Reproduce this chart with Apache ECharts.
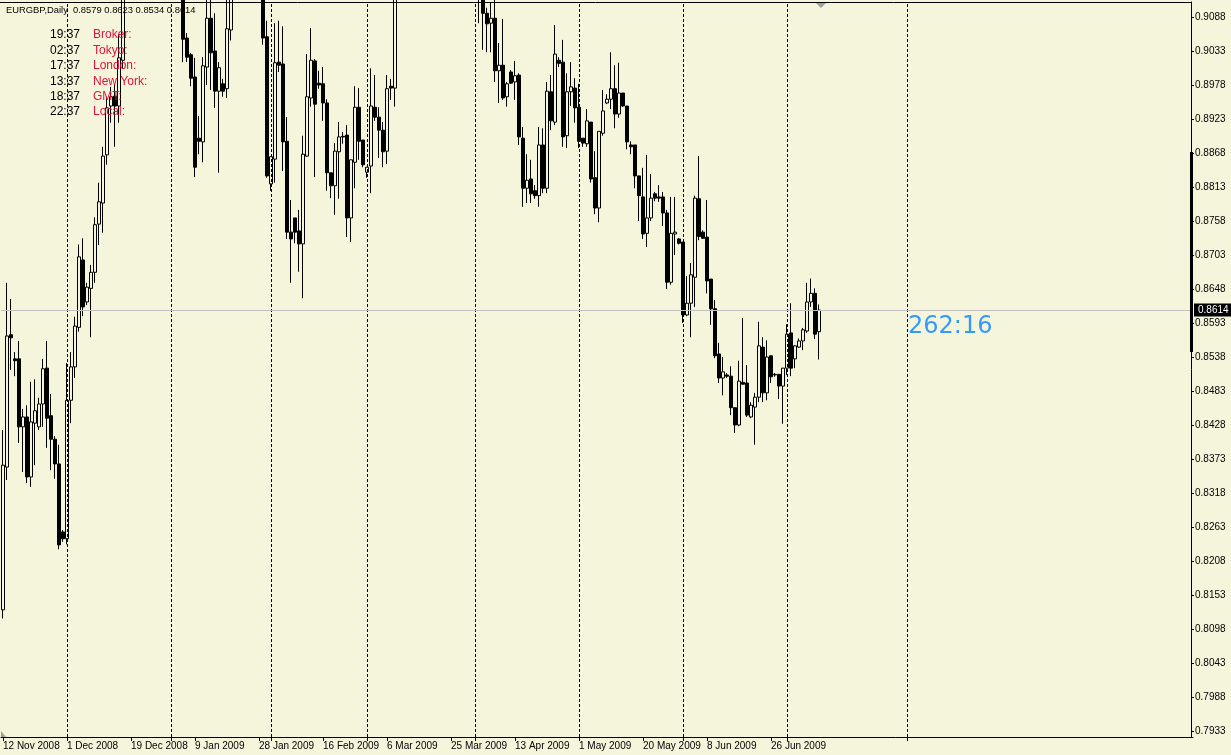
<!DOCTYPE html>
<html><head><meta charset="utf-8">
<script src="https://cdn.jsdelivr.net/npm/echarts@6/dist/echarts.min.js"></script>
<style>html,body{margin:0;padding:0;background:#F5F5DC;}#c{width:1231px;height:755px;}</style>
</head><body><div id="c"></div>
<script>
// ---------------- data ----------------
const symbolTitle = 'EURGBP,Daily';
const lastBarOHLC = [0.8579, 0.8623, 0.8534, 0.8614];   // open high low close of last bar
const currentPrice = 0.8614;
const countdownText = '262:16';
const clockTimes = ['19:37', '02:37', '17:37', '13:37', '18:37', '22:37'];
const clockNames = ['Broker:', 'Tokyo:', 'London:', 'New York:', 'GMT:', 'Local:'];

// daily bars (Sunday bars included), 12 Nov 2008 .. 10 Jul 2009
const opens = [
 0.8129,0.8360,0.8574,0.8535,0.8535,0.8425,0.8441,0.8344,0.8431,0.8425,
 0.8462,0.8520,0.8443,0.8405,0.8365,0.8255,0.8244,0.8468,0.8522,0.8586,
 0.8695,0.8627,0.8649,0.8675,0.8753,0.8787,0.8865,0.8944,0.8960,0.8944,
 0.9018,0.9230,0.9450,0.9320,0.9330,0.9480,0.9550,0.9600,0.9580,0.9590,
 0.9680,0.9750,0.9650,0.9520,0.9510,0.9300,0.9054,0.9027,0.8991,0.8892,
 0.8886,0.9007,0.9086,0.9033,0.8968,0.8980,0.8972,0.9067,0.9180,0.9320,
 0.9380,0.9420,0.9410,0.9330,0.9250,0.9160,0.9056,0.8818,0.8858,0.9015,
 0.9012,0.8887,0.8740,0.8763,0.8742,0.8721,0.8863,0.8957,0.9017,0.8981,
 0.8980,0.8949,0.8836,0.8815,0.8870,0.8895,0.8897,0.8763,0.8853,0.8942,
 0.8889,0.8837,0.8847,0.8942,0.8926,0.8905,0.8871,0.8976,0.8973,0.9180,
 0.9250,0.9200,0.9280,0.9350,0.9340,0.9300,0.9380,0.9470,0.9420,0.9450,
 0.9440,0.9380,0.9300,0.9350,0.9320,0.9290,0.9280,0.9240,0.9280,0.9230,
 0.9180,0.9094,0.9078,0.9086,0.9001,0.9010,0.8959,0.8999,0.8983,0.8994,
 0.8892,0.8811,0.8826,0.8807,0.8799,0.8881,0.8811,0.8967,0.8918,0.9018,
 0.9015,0.8896,0.8967,0.8973,0.8942,0.8892,0.8883,0.8918,0.8828,0.8779,
 0.8900,0.8949,0.8955,0.8972,0.8931,0.8965,0.8944,0.8881,0.8881,0.8831,
 0.8797,0.8738,0.8763,0.8802,0.8797,0.8797,0.8771,0.8659,0.8737,0.8729,
 0.8724,0.8606,0.8625,0.8667,0.8794,0.8740,0.8732,0.8664,0.8616,0.8543,
 0.8504,0.8509,0.8507,0.8456,0.8428,0.8497,0.8496,0.8441,0.8457,0.8473,
 0.8554,0.8480,0.8540,0.8509,0.8510,0.8491,0.8520,0.8577,0.8535,0.8554,
 0.8564,0.8580,0.8627,0.8641,0.8579
];
const highs = [
 0.8420,0.8658,0.8632,0.8546,0.8564,0.8454,0.8460,0.8498,0.8502,0.8472,
 0.8535,0.8564,0.8478,0.8410,0.8396,0.8258,0.8528,0.8546,0.8603,0.8720,
 0.8730,0.8658,0.8687,0.8764,0.8820,0.8878,0.8959,0.8975,0.8978,0.9060,
 0.9245,0.9480,0.9560,0.9350,0.9500,0.9580,0.9640,0.9660,0.9600,0.9700,
 0.9800,0.9780,0.9700,0.9540,0.9530,0.9340,0.9062,0.9030,0.9022,0.8928,
 0.9023,0.9120,0.9118,0.9094,0.9015,0.8988,0.9116,0.9220,0.9350,0.9400,
 0.9460,0.9430,0.9440,0.9360,0.9280,0.9190,0.9082,0.8862,0.9078,0.9082,
 0.9073,0.8926,0.8792,0.8763,0.8776,0.8896,0.9028,0.9070,0.9020,0.9001,
 0.9007,0.8955,0.8836,0.8884,0.8918,0.8902,0.8913,0.8857,0.8976,0.8973,
 0.8889,0.8845,0.9005,0.8994,0.8942,0.8918,0.8994,0.8988,0.9200,0.9290,
 0.9290,0.9320,0.9400,0.9360,0.9380,0.9420,0.9520,0.9500,0.9490,0.9460,
 0.9470,0.9400,0.9380,0.9390,0.9350,0.9300,0.9320,0.9310,0.9300,0.9250,
 0.9200,0.9103,0.9111,0.9125,0.9046,0.9085,0.8983,0.9002,0.9017,0.8997,
 0.8910,0.8866,0.8857,0.8816,0.8910,0.8908,0.8983,0.8994,0.9075,0.9023,
 0.9051,0.8997,0.9015,0.8989,0.8980,0.8892,0.8939,0.8918,0.8871,0.8903,
 0.8970,0.8963,0.9031,0.9010,0.9014,0.8965,0.8944,0.8887,0.8881,0.8831,
 0.8844,0.8865,0.8834,0.8805,0.8816,0.8805,0.8776,0.8797,0.8797,0.8730,
 0.8724,0.8669,0.8690,0.8799,0.8863,0.8743,0.8792,0.8664,0.8630,0.8561,
 0.8538,0.8512,0.8523,0.8456,0.8532,0.8601,0.8525,0.8465,0.8480,0.8595,
 0.8570,0.8565,0.8540,0.8512,0.8510,0.8520,0.8591,0.8625,0.8557,0.8568,
 0.8585,0.8658,0.8665,0.8649,0.8623
];
const lows = [
 0.8115,0.8339,0.8517,0.8507,0.8399,0.8352,0.8334,0.8328,0.8363,0.8420,
 0.8425,0.8391,0.8355,0.8341,0.8227,0.8239,0.8235,0.8431,0.8504,0.8579,
 0.8604,0.8622,0.8570,0.8658,0.8719,0.8739,0.8849,0.8917,0.8878,0.8917,
 0.9005,0.9200,0.9280,0.9290,0.9300,0.9420,0.9500,0.9540,0.9560,0.9550,
 0.9650,0.9600,0.9480,0.9500,0.9280,0.9015,0.9015,0.8976,0.8829,0.8866,
 0.8853,0.8978,0.8970,0.8941,0.8836,0.8959,0.8957,0.9050,0.9150,0.9250,
 0.9350,0.9400,0.9290,0.9200,0.9130,0.9043,0.8828,0.8807,0.8820,0.8999,
 0.8839,0.8729,0.8658,0.8722,0.8676,0.8633,0.8862,0.8943,0.8829,0.8972,
 0.8920,0.8807,0.8795,0.8768,0.8794,0.8883,0.8732,0.8724,0.8811,0.8857,
 0.8845,0.8828,0.8803,0.8920,0.8860,0.8845,0.8850,0.8954,0.8943,0.9150,
 0.9170,0.9180,0.9250,0.9330,0.9260,0.9280,0.9350,0.9380,0.9400,0.9430,
 0.9330,0.9260,0.9250,0.9280,0.9250,0.9270,0.9200,0.9190,0.9180,0.9078,
 0.9035,0.9031,0.9031,0.8983,0.8949,0.8954,0.8943,0.8980,0.8954,0.8881,
 0.8781,0.8787,0.8787,0.8794,0.8781,0.8803,0.8803,0.8905,0.8913,0.9007,
 0.8878,0.8876,0.8944,0.8917,0.8876,0.8878,0.8878,0.8820,0.8769,0.8756,
 0.8896,0.8947,0.8939,0.8908,0.8925,0.8943,0.8874,0.8866,0.8811,0.8758,
 0.8729,0.8716,0.8758,0.8790,0.8789,0.8750,0.8648,0.8655,0.8703,0.8720,
 0.8593,0.8604,0.8570,0.8619,0.8727,0.8729,0.8641,0.8590,0.8536,0.8496,
 0.8476,0.8504,0.8444,0.8415,0.8426,0.8494,0.8441,0.8439,0.8396,0.8465,
 0.8465,0.8468,0.8496,0.8506,0.8470,0.8430,0.8509,0.8507,0.8520,0.8553,
 0.8549,0.8577,0.8619,0.8567,0.8534
];
const closes = [
 0.8363,0.8572,0.8569,0.8532,0.8425,0.8441,0.8344,0.8433,0.8451,0.8462,
 0.8519,0.8439,0.8405,0.8365,0.8234,0.8244,0.8468,0.8522,0.8588,0.8700,
 0.8619,0.8651,0.8675,0.8752,0.8789,0.8863,0.8941,0.8959,0.8944,0.9022,
 0.9230,0.9450,0.9320,0.9330,0.9480,0.9550,0.9600,0.9580,0.9590,0.9680,
 0.9750,0.9650,0.9520,0.9510,0.9300,0.9052,0.9023,0.8989,0.8845,0.8887,
 0.9009,0.9086,0.9030,0.8968,0.9006,0.8968,0.9069,0.9180,0.9320,0.9380,
 0.9420,0.9410,0.9330,0.9250,0.9160,0.9054,0.8831,0.8862,0.9014,0.9010,
 0.8886,0.8740,0.8729,0.8740,0.8721,0.8866,0.8959,0.9018,0.8947,0.8978,
 0.8949,0.8836,0.8815,0.8871,0.8894,0.8894,0.8763,0.8857,0.8942,0.8887,
 0.8849,0.8845,0.8944,0.8926,0.8905,0.8870,0.8972,0.8973,0.9180,0.9250,
 0.9200,0.9280,0.9350,0.9340,0.9300,0.9380,0.9470,0.9420,0.9450,0.9440,
 0.9380,0.9300,0.9350,0.9320,0.9290,0.9280,0.9240,0.9280,0.9230,0.9180,
 0.9094,0.9077,0.9086,0.9001,0.9010,0.8957,0.8980,0.8981,0.8993,0.8894,
 0.8811,0.8824,0.8802,0.8799,0.8881,0.8811,0.8968,0.8920,0.9028,0.9013,
 0.8894,0.8967,0.8975,0.8941,0.8887,0.8884,0.8920,0.8826,0.8779,0.8903,
 0.8936,0.8955,0.8972,0.8931,0.8965,0.8944,0.8886,0.8878,0.8831,0.8799,
 0.8737,0.8763,0.8795,0.8795,0.8795,0.8771,0.8659,0.8738,0.8740,0.8722,
 0.8606,0.8625,0.8671,0.8795,0.8733,0.8730,0.8661,0.8616,0.8540,0.8504,
 0.8514,0.8507,0.8456,0.8428,0.8499,0.8494,0.8444,0.8460,0.8473,0.8556,
 0.8480,0.8538,0.8506,0.8510,0.8491,0.8520,0.8575,0.8520,0.8556,0.8564,
 0.8582,0.8627,0.8641,0.8575,0.8614
];

const priceTicks = [0.7933,0.7988,0.8043,0.8098,0.8153,0.8208,0.8263,0.8318,0.8373,0.8428,0.8483,
                    0.8538,0.8593,0.8648,0.8703,0.8758,0.8813,0.8868,0.8923,0.8978,0.9033,0.9088];
const dateLabels = ['12 Nov 2008','1 Dec 2008','19 Dec 2008','9 Jan 2009','28 Jan 2009','16 Feb 2009',
                    '6 Mar 2009','25 Mar 2009','13 Apr 2009','1 May 2009','20 May 2009','8 Jun 2009','26 Jun 2009'];
const periodSeparators = ['1 Dec 2008','2 Jan 2009','1 Feb 2009','1 Mar 2009','1 Apr 2009','1 May 2009','1 Jun 2009','1 Jul 2009','1 Aug 2009'];
const marketClosed = ['25 Dec 2008','1 Jan 2009'];
const priceMin = 0.79233, priceMax = 0.911227;
const totalSlots = 298;

// ---------------- calendar of bar slots ----------------
const MONTHS = ['Jan','Feb','Mar','Apr','May','Jun','Jul','Aug','Sep','Oct','Nov','Dec'];
function fmt(d){ return d.getUTCDate()+' '+MONTHS[d.getUTCMonth()]+' '+d.getUTCFullYear(); }
function buildSlots(n, dataLen){
  const out = []; const d = new Date(Date.UTC(2008,10,12));
  while(out.length < n){
    const s = fmt(d);
    if(out.length >= dataLen || (d.getUTCDay() !== 6 && marketClosed.indexOf(s) < 0)) out.push(s);
    d.setUTCDate(d.getUTCDate()+1);
  }
  return out;
}
const categories = buildSlots(totalSlots, opens.length);
const labelSet = new Set(dateLabels);
const sepSet = new Set(periodSeparators);

const BG = '#F5F5DC';
const FONT = '"Liberation Sans", Arial, sans-serif';
const candles = opens.map((o,i)=>[o, closes[i], lows[i], highs[i]]);

const chart = echarts.init(document.getElementById('c'));
chart.setOption({
  backgroundColor: BG,
  animation: false,
  grid: {left: 1, right: 38, top: 2, bottom: 18},
  xAxis: {
    type: 'category', data: categories, boundaryGap: true,
    axisLine: {show: true, onZero: false, lineStyle: {color: '#000', width: 1}},
    axisTick: {show: true, alignWithLabel: true, length: 4, lineStyle: {color: '#000'},
      interval: (i, v) => labelSet.has(v) || sepSet.has(v)},
    axisLabel: {show: true, interval: (i, v) => labelSet.has(v), align: 'left', color: '#000',
      fontSize: 10, fontFamily: FONT, margin: 4},
    splitLine: {show: false}
  },
  yAxis: {
    type: 'value', position: 'right', min: priceMin, max: priceMax, offset: -2,
    axisLine: {show: true, lineStyle: {color: '#000', width: 1}},
    axisTick: {show: true, length: 3, lineStyle: {color: '#000'}, customValues: priceTicks},
    axisLabel: {show: true, customValues: priceTicks, formatter: v => v.toFixed(4), color: '#000',
      fontSize: 10, fontFamily: FONT, margin: 4, lineHeight: 14, padding: [5, 0, 0, 0]},
    splitLine: {show: false}
  },
  series: [
    {
      type: 'line', data: [], z: 1, silent: true,
      markLine: {
        symbol: 'none', silent: true, animation: false,
        lineStyle: {color: '#000', type: [3, 2], width: 1},
        label: {show: false},
        data: periodSeparators.map(d => ({xAxis: d}))
      }
    },
    {
      type: 'line', data: [], z: 1, silent: true,
      markLine: {
        symbol: 'none', silent: true, animation: false, precision: 4,
        lineStyle: {color: '#C0C0C0', type: 'solid', width: 1},
        label: {show: true, position: 'end', distance: 1, formatter: currentPrice.toFixed(4),
          color: '#fff', backgroundColor: '#000', fontSize: 10, fontFamily: FONT, padding: [2, 6, 1, 4]},
        data: [{yAxis: currentPrice}]
      }
    },
    {
      type: 'candlestick', z: 3, data: candles, barWidth: 3, clip: true,
      itemStyle: {color: BG, color0: '#000', borderColor: '#000', borderColor0: '#000', borderWidth: 1}
    }
  ],
  graphic: [
    {type: 'line', shape: {x1: 0, y1: 2.5, x2: 1191, y2: 2.5}, style: {stroke: '#000', lineWidth: 1}, z: 10},
    {type: 'text', x: 6, y: 10, z: 10, style: {text: symbolTitle + '  ' + lastBarOHLC.map(v=>v.toFixed(4)).join(' '),
      fill: '#000', font: '9.4px ' + FONT, align: 'left', verticalAlign: 'middle'}},
    ...clockTimes.map((t, k) => ({type: 'text', x: 80, y: 35 + k * 15.4, z: 10,
      style: {text: t, fill: '#000', font: '12px ' + FONT, align: 'right', verticalAlign: 'middle'}})),
    ...clockNames.map((t, k) => ({type: 'text', x: 93, y: 35 + k * 15.4, z: 10,
      style: {text: t, fill: '#DC143C', font: '12px ' + FONT, align: 'left', verticalAlign: 'middle'}})),
    {type: 'text', x: 908, y: 327, z: 10, style: {text: countdownText, fill: '#3399FF',
      font: '24px "DejaVu Sans", Verdana, sans-serif', align: 'left', verticalAlign: 'middle'}},
    {type: 'rect', shape: {x: 1190, y: 152, width: 3, height: 200}, style: {fill: '#000'}, z: 10},
    {type: 'polygon', shape: {points: [[816, 3], [826, 3], [821, 8]]}, style: {fill: '#A0A0A0'}, z: 10},
    {type: 'polygon', shape: {points: [[1, 731], [1, 737], [6, 737]]}, style: {fill: '#A0A0A0'}, z: 10}
  ]
});
</script>
</body></html>
